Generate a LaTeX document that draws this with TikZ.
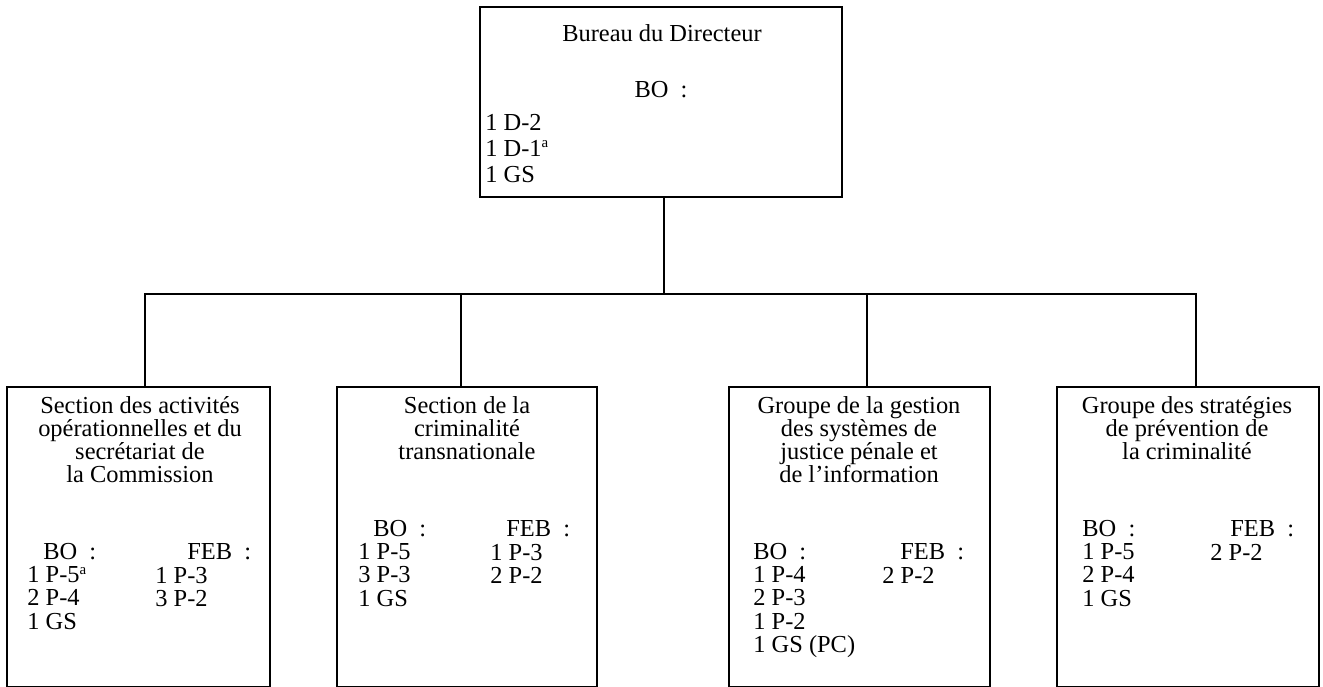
\documentclass[tikz,border=0pt]{standalone}
\usepackage{fontspec}
\setmainfont{Liberation Serif}
\usetikzlibrary{positioning}

\newcommand{\orgfont}{\fontsize{13.9}{13.1}\selectfont\lineskiplimit=-5pt}
\newcommand{\supa}{\raisebox{0.34em}{\fontsize{8.5}{8.5}\selectfont a}}

\begin{document}
\begin{tikzpicture}[
  unit/.style={draw, line width=0.8pt, inner sep=0pt},
  ttl/.style={align=center, anchor=north, inner sep=0pt, font=\orgfont},
  hdr/.style={anchor=base west, inner sep=0pt, font=\orgfont},
  lst/.style={align=left, anchor=north west, inner sep=0pt, font=\orgfont},
  link/.style={line width=0.8pt}
]
\useasboundingbox (0,0) rectangle (26.46,13.74);

% director
\node[unit, minimum width=7.24cm, minimum height=3.8cm] (dir) at (13.22,11.7) {};
\node[anchor=base, inner sep=0pt, font=\orgfont] (dirttl) at (13.24,12.9) {Bureau du Directeur};
\node[anchor=base, inner sep=0pt, font=\orgfont] (dirbo) at (13.22,11.78) {BO\enspace:};
\node[lst, font={\orgfont\setlength{\baselineskip}{14.8pt}}] (dirlst) at (9.7,11.47) {1 D-2\\1 D-1\supa\\1 GS};

% sections
\node[unit, minimum width=5.26cm, minimum height=6cm] (sec1) at (2.77,3) {};
\node[unit, minimum width=5.2cm, minimum height=6cm] (sec2) at (9.34,3) {};
\node[unit, minimum width=5.22cm, minimum height=6cm] (sec3) at (17.19,3) {};
\node[unit, minimum width=5.24cm, minimum height=6cm] (sec4) at (23.76,3) {};

\node[ttl] (ttl1) at (2.8,5.81) {Section des activités\\opérationnelles et du\\secrétariat de\\la Commission};
\node[hdr] (bo1) at (0.86,2.54) {BO\enspace:};
\node[lst] (bolst1) at (0.54,2.41) {1 P-5\supa\\2 P-4\\1 GS};
\node[hdr] (feb1) at (3.74,2.54) {FEB\enspace:};
\node[lst] (feblst1) at (3.1,2.41) {1 P-3\\3 P-2};

\node[ttl] (ttl2) at (9.34,5.81) {Section de la\\criminalité\\transnationale};
\node[hdr] (bo2) at (7.46,3.0) {BO\enspace:};
\node[lst] (bolst2) at (7.16,2.87) {1 P-5\\3 P-3\\1 GS};
\node[hdr] (feb2) at (10.12,3.0) {FEB\enspace:};
\node[lst] (feblst2) at (9.8,2.87) {1 P-3\\2 P-2};

\node[ttl] (ttl3) at (17.18,5.81) {Groupe de la gestion\\des systèmes de\\justice pénale et\\de l'information};
\node[hdr] (bo3) at (15.06,2.54) {BO\enspace:};
\node[lst] (bolst3) at (15.06,2.41) {1 P-4\\2 P-3\\1 P-2\\1 GS (PC)};
\node[hdr] (feb3) at (18.0,2.54) {FEB\enspace:};
\node[lst] (feblst3) at (17.64,2.41) {2 P-2};

\node[ttl] (ttl4) at (23.74,5.81) {Groupe des stratégies\\de prévention de\\la criminalité};
\node[hdr] (bo4) at (21.64,3.0) {BO\enspace:};
\node[lst] (bolst4) at (21.64,2.87) {1 P-5\\2 P-4\\1 GS};
\node[hdr] (feb4) at (24.6,3.0) {FEB\enspace:};
\node[lst] (feblst4) at (24.2,2.87) {2 P-2};

% links
\coordinate (bus) at (13.28,7.86);
\draw[link] (dir.south -| bus) -- (bus);
\draw[link] ([xshift=0.13cm]sec1.north) |- (bus);
\draw[link] ([xshift=0.16cm]sec4.north) |- (bus);
\draw[link] ([xshift=-0.12cm]sec2.north) -- ([xshift=-0.12cm]sec2.north |- bus);
\draw[link] ([xshift=0.15cm]sec3.north) -- ([xshift=0.15cm]sec3.north |- bus);
\end{tikzpicture}
\end{document}
